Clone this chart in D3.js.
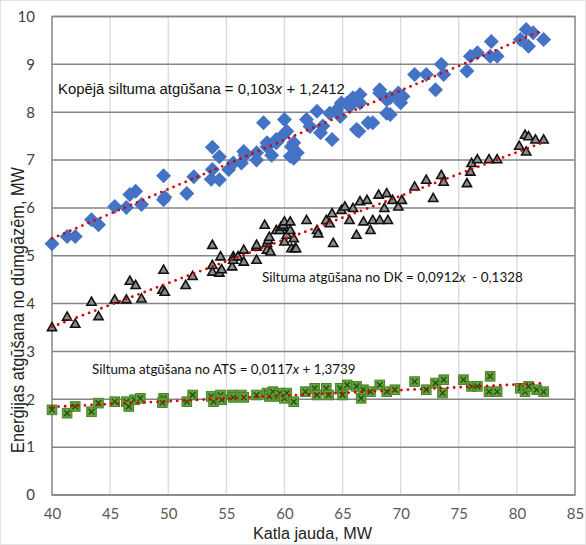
<!DOCTYPE html>
<html><head><meta charset="utf-8">
<script src="https://cdn.jsdelivr.net/npm/d3@7"></script>
<style>body{margin:0;background:#fff}svg{display:block}</style>
</head><body>
<svg id="c" width="586" height="545"></svg>
<script>
const xTicks = [40,45,50,55,60,65,70,75,80,85];
const yTicks = [0,1,2,3,4,5,6,7,8,9,10];

const totalPts = [[40.0,5.25],[41.3,5.40],[42.0,5.40],[43.4,5.75],[44.0,5.65],[45.4,6.03],[46.4,6.01],[46.7,6.28],[47.2,6.35],[47.7,6.07],[49.6,6.67],[49.6,6.17],[49.7,6.22],[51.6,6.30],[52.2,6.65],[53.8,7.27],[53.8,6.80],[53.7,6.60],[54.4,7.07],[54.4,6.59],[55.2,6.80],[55.6,6.94],[56.3,6.94],[56.5,7.18],[56.6,7.10],[57.6,7.0],[57.6,7.15],[58.2,7.78],[58.5,7.28],[58.5,7.36],[58.9,7.10],[59.3,7.43],[59.3,7.36],[59.9,7.53],[60.0,7.85],[60.2,7.60],[60.5,7.08],[60.6,7.28],[60.8,7.36],[60.8,7.04],[61.1,7.15],[61.9,7.85],[62.2,7.70],[62.8,8.02],[63.1,7.57],[63.3,7.71],[63.9,7.98],[64.1,7.43],[64.5,8.05],[64.8,7.91],[64.9,8.19],[65.4,8.19],[65.6,8.12],[65.9,8.30],[66.2,7.64],[66.4,7.60],[66.5,8.19],[66.5,8.37],[67.2,7.78],[67.6,7.78],[68.2,8.47],[68.2,8.40],[68.8,7.98],[68.8,8.26],[69.1,8.30],[69.1,7.95],[69.8,8.40],[69.8,8.30],[70.0,8.20],[70.2,8.33],[71.2,8.79],[72.2,8.79],[73.0,8.47],[73.5,9.00],[73.7,8.79],[75.7,8.86],[76.0,9.17],[76.6,9.24],[77.7,9.17],[77.8,9.48],[78.3,9.17],[80.3,9.52],[80.8,9.73],[81.0,9.38],[81.4,9.66],[82.3,9.52]];

const dkPts = [[40.0,3.51],[41.3,3.73],[42.0,3.58],[43.4,4.04],[44.0,3.74],[45.4,4.09],[46.4,4.09],[46.7,4.48],[47.2,4.39],[47.7,4.11],[49.6,4.71],[49.5,4.29],[49.7,4.25],[51.5,4.39],[52.1,4.58],[53.8,5.23],[53.8,4.81],[53.8,4.67],[54.5,4.99],[54.4,4.65],[54.6,4.72],[55.5,4.78],[55.6,4.99],[55.6,4.92],[56.0,4.99],[56.5,4.88],[56.5,5.13],[57.6,4.92],[57.6,5.19],[57.6,5.23],[58.3,5.65],[58.5,5.27],[58.5,5.13],[58.6,5.33],[58.7,5.40],[58.8,5.09],[59.3,5.54],[59.6,5.54],[59.7,5.61],[59.9,5.65],[60.0,5.30],[60.0,5.72],[60.2,5.44],[60.5,5.54],[60.5,5.72],[60.6,5.16],[60.8,5.37],[60.9,5.16],[61.0,5.16],[61.9,5.75],[62.8,5.54],[62.9,5.47],[63.6,5.75],[63.9,5.68],[64.1,5.89],[64.2,5.27],[64.9,5.96],[65.2,6.03],[65.6,5.75],[65.9,6.00],[66.2,5.44],[66.5,6.14],[66.8,5.72],[67.1,6.17],[67.4,5.54],[67.6,5.75],[68.1,6.28],[68.2,5.75],[68.6,6.00],[68.8,6.31],[68.9,5.75],[69.3,6.17],[69.8,6.03],[70.1,6.17],[71.2,6.45],[72.2,6.59],[72.8,6.21],[73.5,6.69],[73.7,6.55],[75.7,6.52],[76.0,6.76],[76.1,6.94],[76.6,7.02],[77.6,7.02],[78.3,7.02],[80.2,7.30],[80.7,7.53],[81.0,7.50],[80.8,7.18],[81.6,7.43],[82.3,7.43]];

const atsPts = [[40.0,1.78],[41.3,1.71],[42.0,1.85],[43.4,1.74],[44.0,1.92],[45.4,1.95],[46.4,1.95],[46.6,1.85],[47.1,1.99],[47.6,2.02],[49.6,2.02],[49.5,1.93],[51.6,1.95],[52.1,2.09],[53.7,2.06],[53.9,1.95],[54.5,2.09],[54.6,1.99],[55.5,2.09],[55.6,2.04],[56.3,2.09],[56.5,2.04],[57.6,2.09],[58.5,2.13],[58.7,2.06],[59.0,2.16],[59.5,2.06],[59.6,2.13],[60.0,2.02],[60.2,2.13],[60.8,1.95],[61.8,2.16],[62.6,2.23],[62.8,2.09],[63.6,2.23],[63.8,2.09],[64.8,2.23],[65.0,2.09],[65.4,2.30],[66.2,2.27],[66.6,2.02],[66.8,2.20],[67.4,2.16],[68.2,2.30],[68.8,2.16],[69.5,2.20],[71.2,2.37],[72.2,2.20],[73.0,2.34],[73.7,2.41],[73.6,2.13],[75.4,2.41],[76.1,2.27],[76.6,2.27],[77.7,2.48],[77.6,2.16],[78.3,2.16],[80.3,2.23],[80.7,2.16],[81.0,2.27],[81.7,2.20],[82.3,2.16]];

// trendline coefficients as printed on the chart [slope, intercept]
const trendTotal = [0.103, 1.2412];
const trendDK = [0.0912, -0.1328];
const trendATS = [0.0117, 1.3739];

// equation label texts: [before italic x, after]
const eqTotal = ["Kopējā siltuma atgūšana = 0,103", " + 1,2412"];
const eqDK = ["Siltuma atgūšana no DK = 0,0912", "  - 0,1328"];
const eqATS = ["Siltuma atgūšana no ATS = 0,0117", " + 1,3739"];

const svg = d3.select("#c");
svg.append("rect").attr("x",0.5).attr("y",0.5).attr("width",585).attr("height",544).attr("fill","#fff").attr("stroke","#e4e4e4");

const L = 52, R = 575, T = 16.5, B = 495;
const x = d3.scaleLinear().domain([40,85]).range([L,R]);
const y = d3.scaleLinear().domain([0,10]).range([B,T]);

// vertical grid
svg.append("g").selectAll("line").data(xTicks.slice(1,-1)).join("line")
  .attr("x1",d=>x(d)).attr("x2",d=>x(d)).attr("y1",T).attr("y2",B)
  .attr("stroke","#d9d9d9").attr("stroke-width",1.3);
// horizontal grid
svg.append("g").selectAll("line").data(yTicks).join("line")
  .attr("x1",L).attr("x2",R).attr("y1",d=>y(d)).attr("y2",d=>y(d))
  .attr("stroke","#858585").attr("stroke-width",1.5);
// plot border
svg.append("rect").attr("x",L).attr("y",T).attr("width",R-L).attr("height",B-T)
  .attr("fill","none").attr("stroke","#858585").attr("stroke-width",1.5);

// axes tick labels via d3 axes
const xa = svg.append("g").attr("transform",`translate(0,${B})`)
  .call(d3.axisBottom(x).tickValues(xTicks).tickSize(0).tickPadding(13));
xa.select(".domain").remove();
xa.selectAll("text").attr("font-family","Lato, 'Noto Sans', sans-serif").attr("font-size",15).attr("fill","#595959");

const ya = svg.append("g").attr("transform",`translate(${L},0)`)
  .call(d3.axisLeft(y).tickValues(yTicks).tickSize(0).tickPadding(17));
ya.select(".domain").remove();
ya.selectAll("text").attr("font-family","Lato, 'Noto Sans', sans-serif").attr("font-size",15).attr("fill","#404040");

// markers
const gT = svg.append("g");
gT.selectAll("path").data(totalPts).join("path")
  .attr("transform",d=>`translate(${x(d[0])},${y(d[1])})`)
  .attr("d","M0,-7.5L7.5,0L0,7.5L-7.5,0Z").attr("fill","#4472C4");

const gD = svg.append("g");
gD.selectAll("path").data(dkPts).join("path")
  .attr("transform",d=>`translate(${x(d[0])},${y(d[1])})`)
  .attr("d","M0,-4.5L4.6,3.6L-4.6,3.6Z").attr("fill","#8c8c8c").attr("stroke","#111").attr("stroke-width",1.6).attr("stroke-linejoin","miter");

const gA = svg.append("g");
const sq = gA.selectAll("g").data(atsPts).join("g")
  .attr("transform",d=>`translate(${x(d[0])},${y(d[1])})`);
sq.append("rect").attr("x",-4.8).attr("y",-4.8).attr("width",9.6).attr("height",9.6)
  .attr("fill","#64a23c").attr("stroke","#4a8229").attr("stroke-width",1);
sq.append("path").attr("d","M-2.8,-2.8L2.8,2.8M2.8,-2.8L-2.8,2.8").attr("stroke","#254a12").attr("stroke-width",1.3);

// trendlines
function trend(pts, c){
  const ext = d3.extent(pts, d=>d[0]);
  svg.append("line")
    .attr("x1",x(ext[0])).attr("y1",y(c[0]*ext[0]+c[1]))
    .attr("x2",x(ext[1])).attr("y2",y(c[0]*ext[1]+c[1]))
    .attr("stroke","#d40000").attr("stroke-width",2.8)
    .attr("stroke-linecap","round").attr("stroke-dasharray","0,6.6");
}
trend(totalPts, trendTotal);
trend(dkPts, trendDK);
trend(atsPts, trendATS);

// equation labels: three separate text pieces, font size fitted to target width
function eq(xp, yp, parts, targetW, font){
  const g = svg.append("g");
  const pieces = [[parts[0],"normal"],["x","italic"],[parts[1],"normal"]];
  const ts = pieces.map(p => g.append("text").attr("y",yp).attr("font-family",font)
      .attr("font-size",15).attr("font-style",p[1]).attr("fill","#111")
      .attr("xml:space","preserve").style("white-space","pre").text(p[0]));
  const tot = d3.sum(ts, t => t.node().getComputedTextLength());
  const fs = 15 * targetW / tot;
  let cx = xp;
  ts.forEach(t => { t.attr("font-size",fs).attr("x",cx); cx += t.node().getComputedTextLength(); });
}
eq(58, 94, eqTotal, 287, "'Liberation Sans', Arial, sans-serif");
eq(262, 282, eqDK, 261, "Lato, 'Noto Sans', sans-serif");
eq(92, 374, eqATS, 264, "Lato, 'Noto Sans', sans-serif");

// axis titles
svg.append("text").attr("x",312.5).attr("y",539).attr("text-anchor","middle")
  .attr("font-family","'Liberation Sans', Arial, sans-serif").attr("font-size",16).attr("fill","#222")
  .attr("textLength",119).attr("lengthAdjust","spacingAndGlyphs")
  .text("Katla jauda, MW");
svg.append("text").attr("transform","translate(24,310) rotate(-90)").attr("text-anchor","middle")
  .attr("font-family","'Liberation Sans', Arial, sans-serif").attr("font-size",18).attr("fill","#222")
  .attr("textLength",286).attr("lengthAdjust","spacingAndGlyphs")
  .text("Enerģijas atgūšana no dūmgāzēm, MW");
</script>
</body></html>
